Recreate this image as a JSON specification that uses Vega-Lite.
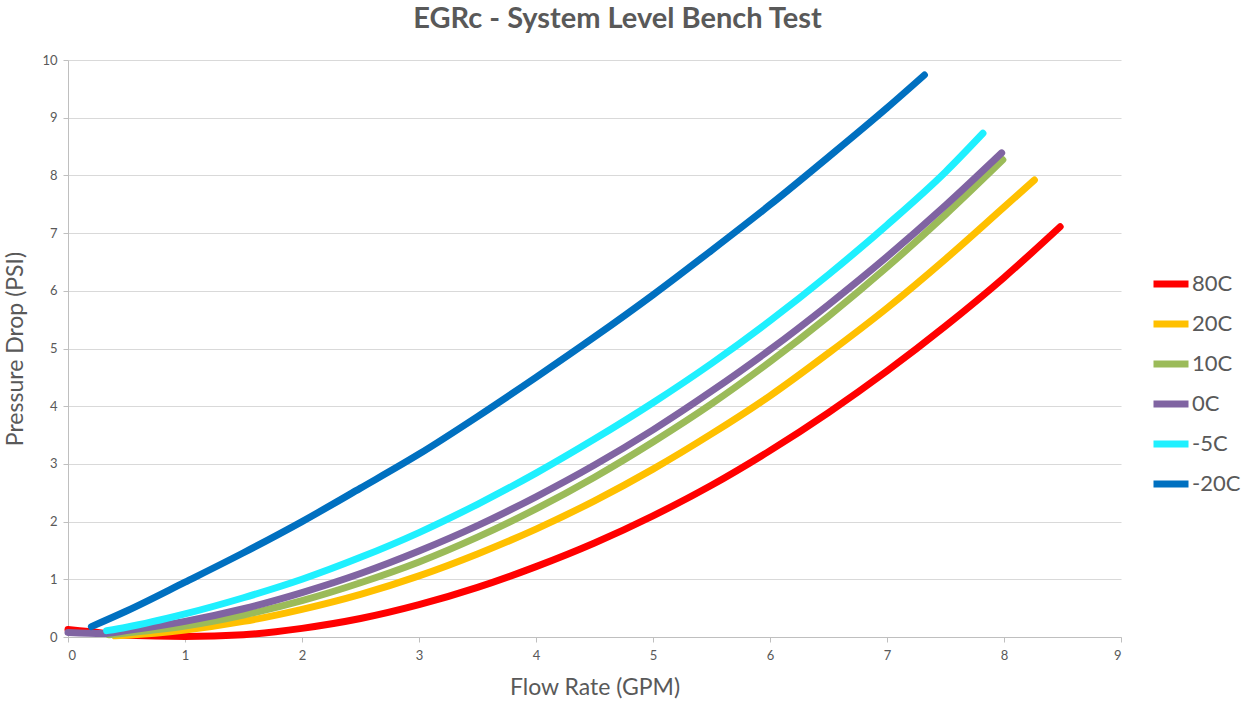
{
  "$schema": "https://vega.github.io/schema/vega-lite/v6.json",
  "width": 1053,
  "height": 577,
  "autosize": {"type": "none"},
  "padding": {"left": 68, "top": 60, "right": 128, "bottom": 70},
  "background": "white",
  "title": {
    "text": "EGRc - System Level Bench Test",
    "font": "Lato",
    "fontSize": 29,
    "fontWeight": "bold",
    "color": "#595959",
    "anchor": "middle",
    "dx": 23,
    "offset": 20
  },
  "config": {
    "view": {"stroke": null},
    "font": "Lato"
  },
  "data": {
    "values": [
      {"T": "80C", "x": 0, "y": 0.13},
      {"T": "80C", "x": 0.2, "y": 0.09},
      {"T": "80C", "x": 0.5, "y": 0.03},
      {"T": "80C", "x": 1, "y": 0.01},
      {"T": "80C", "x": 1.5, "y": 0.04},
      {"T": "80C", "x": 2, "y": 0.15},
      {"T": "80C", "x": 2.5, "y": 0.32},
      {"T": "80C", "x": 3, "y": 0.56},
      {"T": "80C", "x": 3.5, "y": 0.86},
      {"T": "80C", "x": 4, "y": 1.22},
      {"T": "80C", "x": 4.5, "y": 1.63},
      {"T": "80C", "x": 5, "y": 2.1},
      {"T": "80C", "x": 5.5, "y": 2.63},
      {"T": "80C", "x": 6, "y": 3.23},
      {"T": "80C", "x": 6.5, "y": 3.89},
      {"T": "80C", "x": 7, "y": 4.61},
      {"T": "80C", "x": 7.5, "y": 5.39},
      {"T": "80C", "x": 8, "y": 6.23},
      {"T": "80C", "x": 8.48, "y": 7.11},
      {"T": "20C", "x": 0.4, "y": 0.02},
      {"T": "20C", "x": 0.5, "y": 0.03},
      {"T": "20C", "x": 1, "y": 0.12},
      {"T": "20C", "x": 1.5, "y": 0.27},
      {"T": "20C", "x": 2, "y": 0.48},
      {"T": "20C", "x": 2.5, "y": 0.74},
      {"T": "20C", "x": 3, "y": 1.06},
      {"T": "20C", "x": 3.5, "y": 1.44},
      {"T": "20C", "x": 4, "y": 1.87},
      {"T": "20C", "x": 4.5, "y": 2.36},
      {"T": "20C", "x": 5, "y": 2.91},
      {"T": "20C", "x": 5.5, "y": 3.52},
      {"T": "20C", "x": 6, "y": 4.18},
      {"T": "20C", "x": 6.5, "y": 4.92},
      {"T": "20C", "x": 7, "y": 5.7},
      {"T": "20C", "x": 7.5, "y": 6.55},
      {"T": "20C", "x": 8, "y": 7.45},
      {"T": "20C", "x": 8.26, "y": 7.92},
      {"T": "10C", "x": 0.35, "y": 0.04},
      {"T": "10C", "x": 0.5, "y": 0.07},
      {"T": "10C", "x": 1, "y": 0.19},
      {"T": "10C", "x": 1.5, "y": 0.38},
      {"T": "10C", "x": 2, "y": 0.63},
      {"T": "10C", "x": 2.5, "y": 0.94},
      {"T": "10C", "x": 3, "y": 1.3},
      {"T": "10C", "x": 3.5, "y": 1.73},
      {"T": "10C", "x": 4, "y": 2.22},
      {"T": "10C", "x": 4.5, "y": 2.77},
      {"T": "10C", "x": 5, "y": 3.38},
      {"T": "10C", "x": 5.5, "y": 4.04},
      {"T": "10C", "x": 6, "y": 4.77},
      {"T": "10C", "x": 6.5, "y": 5.56},
      {"T": "10C", "x": 7, "y": 6.41},
      {"T": "10C", "x": 7.5, "y": 7.32},
      {"T": "10C", "x": 7.99, "y": 8.27},
      {"T": "0C", "x": 0, "y": 0.08},
      {"T": "0C", "x": 0.3, "y": 0.06},
      {"T": "0C", "x": 0.5, "y": 0.11},
      {"T": "0C", "x": 1, "y": 0.27},
      {"T": "0C", "x": 1.5, "y": 0.49},
      {"T": "0C", "x": 2, "y": 0.77},
      {"T": "0C", "x": 2.5, "y": 1.1},
      {"T": "0C", "x": 3, "y": 1.49},
      {"T": "0C", "x": 3.5, "y": 1.93},
      {"T": "0C", "x": 4, "y": 2.43},
      {"T": "0C", "x": 4.5, "y": 2.98},
      {"T": "0C", "x": 5, "y": 3.59},
      {"T": "0C", "x": 5.5, "y": 4.26},
      {"T": "0C", "x": 6, "y": 4.98},
      {"T": "0C", "x": 6.5, "y": 5.76},
      {"T": "0C", "x": 7, "y": 6.59},
      {"T": "0C", "x": 7.5, "y": 7.48},
      {"T": "0C", "x": 7.98, "y": 8.39},
      {"T": "-5C", "x": 0.33, "y": 0.11},
      {"T": "-5C", "x": 0.5, "y": 0.17},
      {"T": "-5C", "x": 1, "y": 0.4},
      {"T": "-5C", "x": 1.5, "y": 0.68},
      {"T": "-5C", "x": 2, "y": 1.0},
      {"T": "-5C", "x": 2.5, "y": 1.38},
      {"T": "-5C", "x": 3, "y": 1.81},
      {"T": "-5C", "x": 3.5, "y": 2.3},
      {"T": "-5C", "x": 4, "y": 2.84},
      {"T": "-5C", "x": 4.5, "y": 3.43},
      {"T": "-5C", "x": 5, "y": 4.06},
      {"T": "-5C", "x": 5.5, "y": 4.74},
      {"T": "-5C", "x": 6, "y": 5.48},
      {"T": "-5C", "x": 6.5, "y": 6.28},
      {"T": "-5C", "x": 7, "y": 7.14},
      {"T": "-5C", "x": 7.5, "y": 8.06},
      {"T": "-5C", "x": 7.82, "y": 8.73},
      {"T": "-20C", "x": 0.2, "y": 0.18},
      {"T": "-20C", "x": 0.5, "y": 0.45},
      {"T": "-20C", "x": 1, "y": 0.95},
      {"T": "-20C", "x": 1.5, "y": 1.46},
      {"T": "-20C", "x": 2, "y": 2.0},
      {"T": "-20C", "x": 2.5, "y": 2.58},
      {"T": "-20C", "x": 3, "y": 3.17},
      {"T": "-20C", "x": 3.5, "y": 3.82},
      {"T": "-20C", "x": 4, "y": 4.5},
      {"T": "-20C", "x": 4.5, "y": 5.2},
      {"T": "-20C", "x": 5, "y": 5.93},
      {"T": "-20C", "x": 5.5, "y": 6.7},
      {"T": "-20C", "x": 6, "y": 7.49},
      {"T": "-20C", "x": 6.5, "y": 8.32},
      {"T": "-20C", "x": 7, "y": 9.17},
      {"T": "-20C", "x": 7.32, "y": 9.74}
    ]
  },
  "mark": {
    "type": "line",
    "strokeWidth": 7,
    "strokeCap": "round",
    "strokeJoin": "round",
    "interpolate": "monotone"
  },
  "encoding": {
    "x": {
      "field": "x",
      "type": "quantitative",
      "scale": {"domain": [0, 9], "nice": false, "zero": true},
      "axis": {
        "title": "Flow Rate (GPM)",
        "titleFont": "Lato",
        "titleFontSize": 23,
        "titleFontWeight": "normal",
        "titleColor": "#595959",
        "titlePadding": 14,
        "values": [0, 1, 2, 3, 4, 5, 6, 7, 8, 9],
        "format": "d",
        "labelFont": "Lato",
        "labelFontSize": 13,
        "labelColor": "#595959",
        "labelPadding": 7,
        "grid": false,
        "domainColor": "#bfbfbf",
        "tickColor": "#bfbfbf",
        "tickSize": 5
      }
    },
    "y": {
      "field": "y",
      "type": "quantitative",
      "scale": {"domain": [0, 10], "nice": false},
      "axis": {
        "title": "Pressure Drop (PSI)",
        "titleFont": "Lato",
        "titleFontSize": 23,
        "titleFontWeight": "normal",
        "titleColor": "#595959",
        "titlePadding": 14,
        "values": [0, 1, 2, 3, 4, 5, 6, 7, 8, 9, 10],
        "format": "d",
        "labelFont": "Lato",
        "labelFontSize": 13,
        "labelColor": "#595959",
        "labelPadding": 6,
        "grid": true,
        "gridColor": "#d9d9d9",
        "domainColor": "#bfbfbf",
        "tickColor": "#bfbfbf",
        "tickSize": 5
      }
    },
    "color": {
      "field": "T",
      "type": "nominal",
      "sort": ["80C", "20C", "10C", "0C", "-5C", "-20C"],
      "scale": {
        "domain": ["80C", "20C", "10C", "0C", "-5C", "-20C"],
        "range": ["#FF0000", "#FFC000", "#9BBB59", "#8064A2", "#1FF0FF", "#0070C0"]
      },
      "legend": {
        "title": null,
        "orient": "none",
        "legendX": 1082,
        "legendY": 203,
        "symbolType": "stroke",
        "symbolSize": 1225,
        "symbolStrokeWidth": 7,
        "labelFont": "Lato",
        "labelFontSize": 22,
        "labelColor": "#595959",
        "labelOffset": 0,
        "rowPadding": 5
      }
    }
  }
}
